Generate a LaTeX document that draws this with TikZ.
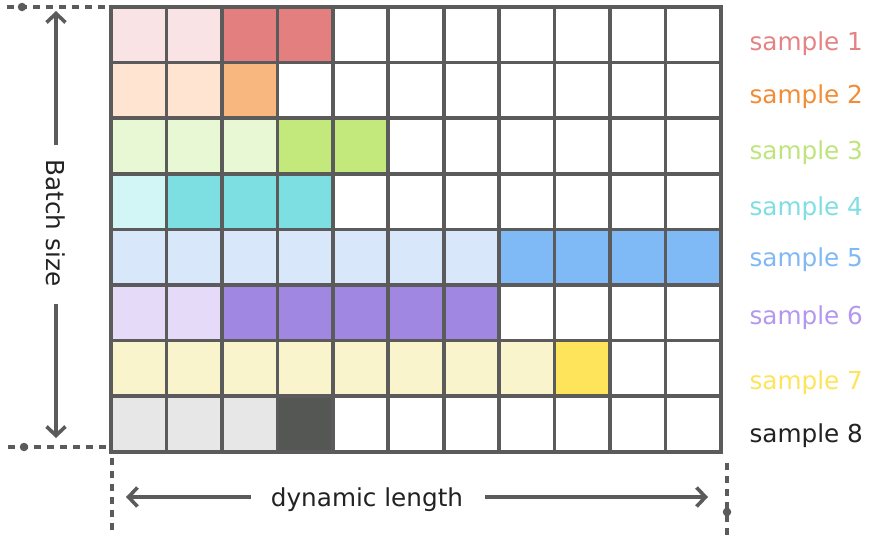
\documentclass[tikz,border=0pt]{standalone}
\usepackage{fontspec}
\setmainfont{DejaVu Sans}
\usetikzlibrary{arrows.meta}
\definecolor{L1}{HTML}{F9E3E5}\definecolor{D1}{HTML}{E47F80}\definecolor{T1}{HTML}{E58384}
\definecolor{L2}{HTML}{FFE4D2}\definecolor{D2}{HTML}{F8B77F}\definecolor{T2}{HTML}{F28C35}
\definecolor{L3}{HTML}{E8F7D4}\definecolor{D3}{HTML}{C3E87B}\definecolor{T3}{HTML}{BEE47B}
\definecolor{L4}{HTML}{D2F5F6}\definecolor{D4}{HTML}{7EDFE3}\definecolor{T4}{HTML}{7FDEE2}
\definecolor{L5}{HTML}{D9E7FA}\definecolor{D5}{HTML}{7FB9F6}\definecolor{T5}{HTML}{7FB8F5}
\definecolor{L6}{HTML}{E5DAF8}\definecolor{D6}{HTML}{A087E2}\definecolor{T6}{HTML}{B397F0}
\definecolor{L7}{HTML}{FAF4CC}\definecolor{D7}{HTML}{FDE45A}\definecolor{T7}{HTML}{FDE45A}
\definecolor{L8}{HTML}{E6E7E6}\definecolor{D8}{HTML}{555755}\definecolor{T8}{HTML}{222222}
\definecolor{edge}{HTML}{5A5B5A}
\definecolor{ink}{HTML}{222222}
\tikzset{
  cell/.style={draw=edge, line width=3.6pt, minimum width=55.45pt, minimum height=55.6pt, inner sep=0pt, outer sep=0pt},
  lab/.style={anchor=base west, font=\fontsize{24.7}{28}\selectfont},
  axis/.style={draw=edge, line width=3.6pt},
  axarrow/.style={axis, -{Straight Barb[length=9pt,width=19pt,line width=3.6pt]}},
  dotline/.style={draw=edge, line width=3.8pt, dash pattern=on 7pt off 6pt},
  dotmark/.style={circle, fill=edge, inner sep=0pt, minimum size=8.5pt},
}
\begin{document}
\begin{tikzpicture}[x=1pt,y=-1pt]
\useasboundingbox (0,0) rectangle (879,539);
\foreach \r/\nl/\nd/\by in {1/2/2/50,2/2/1/103,3/3/2/159,4/1/3/215,5/7/4/266,6/2/5/324,7/8/1/389,8/3/1/442}{
  \foreach \c in {1,...,11}{
    \ifnum\c>\nl
      \ifnum\c>\numexpr\nl+\nd\relax \gdef\fc{white}\else \xdef\fc{D\r}\fi
    \else \xdef\fc{L\r}\fi
    \node[cell, fill=\fc] (c-\r-\c) at ({111+55.45*(\c-0.5)},{7+55.6*(\r-0.5)}) {};
  }
  \node[lab, text=T\r] (s\r) at (746,\by) {sample \r};
}
% batch size axis
\coordinate (vt) at (56,11);
\coordinate (vb) at (56,438);
\node[rotate=-90, font=\fontsize{24.7}{28}\selectfont, text=ink] (bs) at (56,223) {Batch size};
\draw[axarrow] (56,145) -- (vt);
\draw[axarrow] (56,304) -- (vb);
% dynamic length axis
\node[anchor=base, font=\fontsize{24.7}{28}\selectfont, text=ink] (dl) at (367,506) {dynamic length};
\coordinate (hl) at (126,497);
\coordinate (hr) at (708,497);
\draw[axarrow] (251,497) -- (hl);
\draw[axarrow] (485,497) -- (hr);
% dashed guides
\coordinate (t0) at (7,7);
\coordinate (t1) at (108,7);
\draw[dotline] (t0) -- (t1);
\node[dotmark] (td) at (22,7) {};
\coordinate (b0) at (8,447);
\coordinate (b1) at (108,447);
\draw[dotline] (b0) -- (b1);
\node[dotmark] (bd) at (24,447) {};
\coordinate (l0) at (112,458);
\coordinate (l1) at (112,530);
\draw[dotline] (l0) -- (l1);
\coordinate (r0) at (727,463);
\coordinate (r1) at (727,536);
\draw[dotline] (r0) -- (r1);
\node[dotmark] (rd) at (727,512) {};
\end{tikzpicture}
\end{document}
